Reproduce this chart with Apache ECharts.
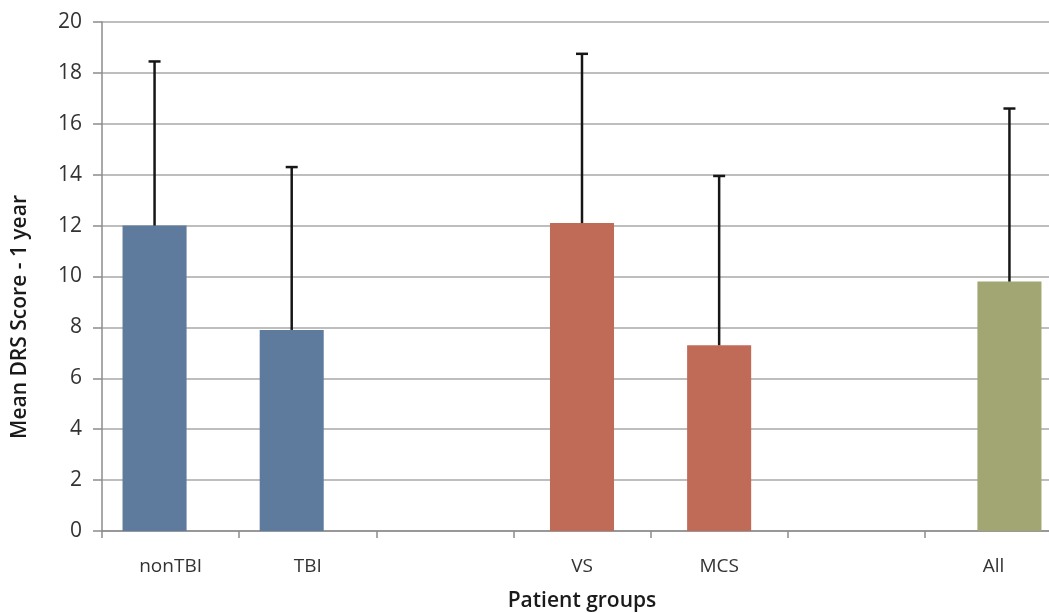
<!DOCTYPE html>
<html>
<head>
<meta charset="utf-8">
<script src="https://cdn.jsdelivr.net/npm/echarts@6/dist/echarts.min.js"></script>
<style>
html,body{margin:0;padding:0;background:#fff;}
#chart{width:1049px;height:613px;}
</style>
</head>
<body>
<div id="chart"></div>
<script>
const categories = ['nonTBI', 'TBI', ' ', 'VS', 'MCS', '  ', 'All'];
const yTicks = [0, 2, 4, 6, 8, 10, 12, 14, 16, 18, 20];
const etiologyMeans = [12.0, 7.9, null, null, null, null, null];
const etiologyUpper = [18.45, 14.3, null, null, null, null, null];
const stateMeans = [null, null, null, 12.1, 7.3, null, null];
const stateUpper = [null, null, null, 18.75, 13.95, null, null];
const allMeans = [null, null, null, null, null, null, 9.8];
const allUpper = [null, null, null, null, null, null, 16.6];

const BAR_FRAC = 0.467;   // bar width as fraction of band
const FONT = '"Open Sans", "Noto Sans", sans-serif';

function errData(means, uppers) {
  const out = [];
  means.forEach((m, i) => { if (m != null) out.push([i, m, uppers[i]]); });
  return out;
}
function errSeries(means, uppers, k) {
  return {
    type: 'custom',
    z: 5,
    silent: true,
    data: errData(means, uppers),
    encode: { x: 0, y: [1, 2] },
    renderItem: function (params, api) {
      const i = api.value(0);
      const base = api.coord([i, api.value(1)]);
      const top = api.coord([i, api.value(2)]);
      const band = api.size([1, 0])[0];
      const x = base[0] + k * 0.25 * BAR_FRAC * band;
      const cap = 6;
      const style = { stroke: '#161616', lineWidth: 2.5 };
      return {
        type: 'group',
        children: [
          { type: 'line', shape: { x1: x, y1: base[1], x2: x, y2: top[1] }, style: style },
          { type: 'line', shape: { x1: x - cap, y1: top[1], x2: x + cap, y2: top[1] }, style: style }
        ]
      };
    }
  };
}

const chart = echarts.init(document.getElementById('chart'));
chart.setOption({
  animation: false,
  backgroundColor: '#ffffff',
  grid: { left: 102, top: 22, bottom: 82, right: -13, containLabel: false, outerBoundsMode: 'none' },
  xAxis: {
    type: 'category',
    data: categories,
    name: 'Patient groups',
    nameLocation: 'middle',
    nameGap: 60,
    nameTextStyle: { fontFamily: FONT, fontSize: 21, fontWeight: 600, color: '#1a1a1a' },
    axisLine: { show: true, lineStyle: { color: '#8c8c8c', width: 1.5 } },
    axisTick: { show: true, alignWithLabel: false, length: 7, lineStyle: { color: '#8c8c8c', width: 1.5 } },
    axisLabel: { fontFamily: FONT, fontSize: 19, color: '#333', margin: 26, interval: 0 },
    splitLine: { show: false }
  },
  yAxis: {
    type: 'value',
    min: yTicks[0],
    max: yTicks[yTicks.length - 1],
    interval: 2,
    axisLine: { show: true, lineStyle: { color: '#8c8c8c', width: 1.5 } },
    axisTick: { show: true, inside: false, length: 9, lineStyle: { color: '#8c8c8c', width: 1.5 } },
    axisLabel: { fontFamily: FONT, fontSize: 21, color: '#333', margin: 20 },
    splitLine: { show: true, lineStyle: { color: '#a8a8a8', width: 1.5 } }
  },
  graphic: [{
    type: 'text',
    x: 20, y: 317,
    rotation: Math.PI / 2,
    style: {
      text: 'Mean DRS Score - 1 year',
      fontFamily: FONT, fontSize: 21, fontWeight: 600, fill: '#1a1a1a',
      align: 'center', verticalAlign: 'middle'
    }
  }],
  series: [
    { type: 'bar', data: etiologyMeans, barWidth: (BAR_FRAC * 100) + '%', barGap: '-75%',
      itemStyle: { color: '#5e7a9d' } },
    { type: 'bar', data: stateMeans, barWidth: (BAR_FRAC * 100) + '%', barGap: '-75%',
      itemStyle: { color: '#c06a58' } },
    { type: 'bar', data: allMeans, barWidth: (BAR_FRAC * 100) + '%', barGap: '-75%',
      itemStyle: { color: '#a2a673' } },
    errSeries(etiologyMeans, etiologyUpper, -1),
    errSeries(stateMeans, stateUpper, 0),
    errSeries(allMeans, allUpper, 1)
  ]
});
</script>
</body>
</html>
